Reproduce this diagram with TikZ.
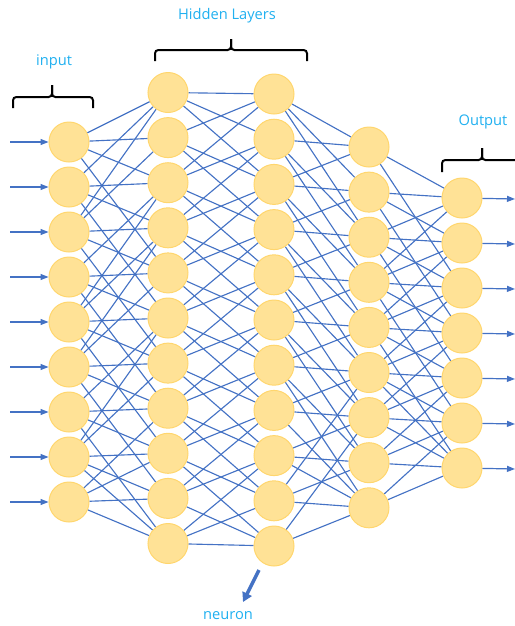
\documentclass[tikz,border=0pt]{standalone}
\usepackage{fontspec}
\setmainfont{Open Sans}
\usetikzlibrary{arrows.meta,backgrounds}

\definecolor{neuronfill}{RGB}{255,226,150}
\definecolor{neuronedge}{RGB}{255,214,110}
\definecolor{linkblue}{RGB}{68,114,196}
\definecolor{labelblue}{RGB}{32,176,240}

\tikzset{
  neuron/.style={circle, fill=neuronfill, draw=neuronedge, line width=0.75pt,
                 minimum size=30pt, inner sep=0pt},
  link/.style={draw=linkblue, line width=0.85pt},
  signal/.style={draw=linkblue, line width=0.9pt, -{Triangle[length=6pt,width=4.5pt]}},
  brace/.style={draw=black, line width=1.5pt, rounded corners=2.5pt},
  caption/.style={text=labelblue, font=\fontsize{11pt}{13pt}\selectfont, inner sep=0pt}
}

\begin{document}
\begin{tikzpicture}[x=0.75pt, y=-0.75pt]
\useasboundingbox (0,0) rectangle (515,626);

% neurons of the five layers
\foreach \i in {1,...,9}  \node[neuron] (a\i) at (69,  {142+45*(\i-1)}) {};
\foreach \i in {1,...,11} \node[neuron] (b\i) at (168, {92.5+45.1*(\i-1)}) {};
\foreach \i in {1,...,11} \node[neuron] (c\i) at (274, {94+45.2*(\i-1)}) {};
\foreach \i in {1,...,9}  \node[neuron] (d\i) at (369, {147+45.1*(\i-1)}) {};
\foreach \i in {1,...,7}  \node[neuron] (e\i) at (462, {198+45*(\i-1)}) {};

% weighted links between neighbouring layers
\begin{scope}[on background layer]
\foreach \s/\ts in {1/{1,2,3,5}, 2/{1,3,4,6}, 3/{1,2,4,5,7}, 4/{3,5,6,8},
                    5/{3,4,6,7,9}, 6/{4,5,7,8,10}, 7/{6,8,9,11}, 8/{6,7,9,10,11},
                    9/{8,9,10,11}}
  \foreach \t in \ts \draw[link] (a\s) -- (b\t);
\foreach \s/\ts in {1/{1,2,3}, 2/{1,3,4}, 3/{1,2,4,5}, 4/{2,3,5,6}, 5/{3,4,6,7},
                    6/{4,5,7,8}, 7/{5,6,8,9}, 8/{6,7,9,10}, 9/{7,8,10,11},
                    10/{8,9,11}, 11/{9,10,11}}
  \foreach \t in \ts \draw[link] (b\s) -- (c\t);
\foreach \s/\ts in {1/{1,2,3}, 2/{1,3,4}, 3/{1,2,4,5}, 4/{2,3,5,6}, 5/{3,4,6,7},
                    6/{4,5,7,8}, 7/{5,6,8,9}, 8/{6,7,9}, 9/{7,8,9},
                    10/{6,8,9}, 11/{7,9}}
  \foreach \t in \ts \draw[link] (c\s) -- (d\t);
\foreach \s/\ts in {1/{1,3}, 2/{1,2,4}, 3/{1,2,3,5}, 4/{1,2,3,4,6}, 5/{2,3,4,5,7},
                    6/{3,4,5,6,7}, 7/{4,5,6,7}, 8/{5,6,7}, 9/{6,7}}
  \foreach \t in \ts \draw[link] (d\s) -- (e\t);
\end{scope}

% incoming and outgoing signals
\foreach \i in {1,...,9} {
  \coordinate (in\i) at (10, {142+45*(\i-1)});
  \draw[signal] (in\i) -- (a\i);
}
\foreach \i in {1,...,7} {
  \coordinate (out\i) at (515, {199+45*(\i-1)});
  \draw[signal] (e\i) -- (out\i);
}

% braces over the layer groups
\draw[brace] (13,108) -- (13,97) -- (52,97) -- (52,85);
\draw[brace] (52,85) -- (52,97) -- (93,97) -- (93,108);
\draw[brace] (155,61) -- (155,50) -- (231,50) -- (231,39);
\draw[brace] (231,39) -- (231,50) -- (307,50) -- (307,61);
\draw[brace] (442,172) -- (442,160) -- (482,160) -- (482,148);
\draw[brace] (482,148) -- (482,160) -- (516,160);

% labels
\node[caption] (lblin)  at (54,62)   {input};
\node[caption] (lblhid) at (227,16)  {Hidden Layers};
\node[caption] (lblout) at (483,122) {Output};
\node[caption] (lblneu) at (228,616) {neuron};

% pointer to a single neuron
\coordinate (ptrtail) at (259,570);
\coordinate (ptrhead) at (243,602);
\draw[draw=linkblue, line width=2.6pt, -{Triangle[length=7pt,width=7.5pt]}] (ptrtail) -- (ptrhead);
\end{tikzpicture}
\end{document}
